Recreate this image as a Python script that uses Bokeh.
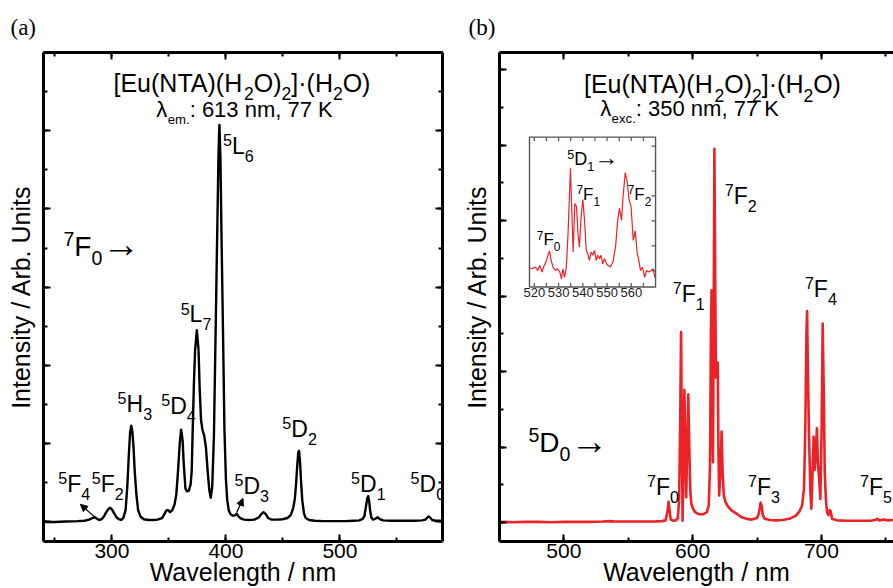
from bokeh.plotting import figure
from bokeh.models import (Range1d, LinearAxis, SingleIntervalTicker, Label, Arrow,
                          NormalHead, CustomJSTickFormatter, Title)
from bokeh.layouts import row
from bokeh.core.properties import value
from bokeh.embed import file_html
from bokeh.resources import INLINE

FONT = "Liberation Sans"
RED = "#EC2227"

# ---------------- data ----------------
# (a) excitation spectrum, lambda_em = 613 nm
exc_wl = [240, 250, 260, 270, 276, 280, 283, 285, 287, 289, 291, 293, 295, 297, 298.5, 300, 302,
          304, 306, 308, 310, 312, 313.5, 315, 316, 317, 318, 319, 320, 321.5, 323, 325, 328, 332,
          336, 340, 344, 346, 348, 349.5, 351, 353, 355, 356.5, 358, 359.5, 360.7, 362, 363, 364.5,
          366, 367.5, 369, 370, 371, 372, 373, 374.5, 376, 377, 378.2, 379.5, 381, 382.5, 384,
          385.5, 386.7, 388, 389.5, 391, 392.5, 393.5, 394.3, 395.2, 396.2, 397.5, 398.7, 400,
          401.2, 402.5, 404, 406, 408, 409.5, 411, 413, 416, 420, 425, 429, 431, 433, 435, 437,
          440, 445, 450, 454, 457, 459, 460.5, 461.5, 462.5, 463.5, 464.2, 465, 466, 467, 468.5,
          470, 473, 478, 485, 495, 505, 512, 517, 520, 521.5, 523, 524, 524.8, 525.6, 526.5,
          527.5, 529, 531, 533, 535, 538, 545, 555, 565, 572, 575, 577, 578.2, 579.5, 581, 584, 590]
exc_int = [0.0, 0.0, 0.01, 0.02, 0.03, 0.06, 0.1, 0.12, 0.08, 0.05, 0.07, 0.14, 0.25, 0.33, 0.36,
           0.32, 0.22, 0.12, 0.07, 0.05, 0.1, 0.3, 0.9, 1.8, 2.3, 2.46, 2.3, 1.9, 1.3, 0.7, 0.3,
           0.14, 0.07, 0.05, 0.05, 0.06, 0.1, 0.2, 0.3, 0.3, 0.25, 0.3, 0.45, 0.7, 1.3, 2.0, 2.36,
           2.1, 1.5, 0.85, 0.78, 0.8, 0.95, 1.3, 2.5, 3.6, 4.4, 4.9, 4.4, 3.4, 2.6, 2.35, 2.2,
           1.9, 1.3, 0.8, 0.62, 0.9, 2.2, 4.9, 7.6, 9.4, 10.15, 9.3, 7.2, 4.8, 2.4, 1.1, 0.55,
           0.3, 0.2, 0.16, 0.17, 0.21, 0.14, 0.09, 0.06, 0.05, 0.06, 0.12, 0.2, 0.25, 0.2, 0.1,
           0.06, 0.06, 0.07, 0.1, 0.18, 0.35, 0.6, 0.95, 1.4, 1.78, 1.82, 1.55, 1.0, 0.55, 0.22,
           0.1, 0.05, 0.03, 0.02, 0.02, 0.02, 0.03, 0.04, 0.08, 0.15, 0.42, 0.6, 0.66, 0.55, 0.3,
           0.12, 0.06, 0.08, 0.12, 0.07, 0.04, 0.03, 0.03, 0.03, 0.04, 0.06, 0.12, 0.14, 0.1,
           0.05, 0.03, 0.03]

# (b) emission spectrum, lambda_exc = 350 nm
em_wl = [450, 460, 470, 480, 490, 500, 510, 520, 530, 535, 540, 550, 560, 570, 576, 579, 580.5,
         581.3, 582, 583, 585, 587, 588.5, 589.5, 590.3, 591.0, 591.6, 592.2, 592.8, 593.6, 594.4,
         595.0, 595.8, 596.6, 597.4, 598.2, 599.0, 600.5, 602, 605, 608, 611, 612.5, 613.5, 614.2,
         614.7, 615.3, 615.8, 616.3, 616.9, 617.5, 618.1, 618.8, 619.5, 620.0, 620.6, 621.5, 622.5,
         623.3, 624.2, 625.5, 627, 630, 634, 638, 642, 646, 650, 651.5, 652.8, 653.6, 654.5, 656,
         660, 665, 670, 675, 680, 683, 685, 686.5, 687.5, 688.4, 688.9, 689.5, 690.5, 691.5,
         692.2, 693.0, 694.0, 694.8, 695.5, 696.5, 697.3, 698.2, 699.2, 700.2, 701.0, 701.8,
         702.6, 703.5, 704.4, 705.5, 706.5, 707.2, 708.3, 712, 720, 730, 738, 742, 743.5, 745,
         748, 752, 756]
em_int = [0.02, 0.01, 0.02, 0.02, 0.01, 0.02, 0.02, 0.02, 0.03, 0.04, 0.03, 0.03, 0.03, 0.03,
          0.04, 0.06, 0.3, 0.55, 0.35, 0.08, 0.05, 0.06, 0.12, 0.6, 2.5, 5.05, 2.5, 0.05, 1.5,
          3.52, 1.6, 0.67, 2.0, 3.4, 2.0, 0.8, 0.5, 0.35, 0.28, 0.22, 0.22, 0.28, 0.45, 1.5, 5.0,
          6.15, 3.0, 1.6, 5.0, 9.9, 6.5, 3.84, 3.9, 4.24, 2.0, 0.72, 1.3, 2.41, 1.3, 0.72, 0.55,
          0.45, 0.33, 0.24, 0.14, 0.1, 0.08, 0.12, 0.25, 0.53, 0.45, 0.2, 0.1, 0.07, 0.06, 0.07,
          0.1, 0.18, 0.3, 0.45, 0.9, 2.5, 5.0, 5.6, 4.0, 2.14, 0.8, 0.37, 1.2, 2.27, 1.4, 1.7,
          2.5, 1.6, 1.2, 0.63, 2.5, 5.27, 3.5, 1.34, 0.6, 0.27, 0.2, 0.33, 0.3, 0.1, 0.06, 0.05,
          0.05, 0.05, 0.07, 0.1, 0.06, 0.08, 0.06, 0.07]

# inset: 5D1 -> 7FJ region
ins_wl = [517.7, 519.0, 520.4, 521.4, 522.2, 523.2, 523.9, 524.8, 525.6, 526.3, 526.9, 527.7,
          528.7, 529.6, 530.5, 531.2, 531.8, 532.5, 533.2, 533.9, 534.9, 535.4, 536.0, 536.7,
          537.4, 538.0, 538.6, 539.3, 540.0, 540.7, 541.4, 542.0, 542.7, 543.4, 544.1, 544.8,
          545.5, 546.2, 546.9, 547.5, 548.2, 548.9, 549.8, 550.4, 551.4, 552.4, 553.5, 554.4,
          555.1, 556.0, 556.6, 557.5, 558.3, 559.1, 559.9, 560.8, 561.6, 562.4, 563.1, 563.8,
          564.6, 565.5, 566.3, 567.2, 568.2, 569.0, 569.7]
ins_int = [1.12, 1.08, 1.15, 1.01, 1.21, 0.95, 1.17, 1.35, 1.62, 1.79, 1.42, 1.15, 1.01, 1.08,
           0.95, 0.68, 1.08, 0.74, 1.15, 2.49, 5.11, 3.57, 1.75, 3.70, 3.57, 2.49, 1.95, 3.16,
           3.86, 3.03, 1.82, 1.69, 1.42, 1.75, 1.62, 1.82, 1.42, 1.62, 1.48, 1.62, 1.28, 1.48,
           1.28, 1.21, 1.15, 1.35, 1.95, 3.03, 3.50, 3.03, 3.97, 4.94, 4.58, 3.84, 3.57, 2.22,
           2.60, 1.75, 1.42, 1.01, 1.15, 0.74, 1.01, 0.95, 1.01, 1.08, 0.74]
ins_ticks = [520, 530, 540, 550, 560]
ins_minor = [525, 535, 545, 555, 565]
ins_yticks = [1, 2, 3, 4, 5, 6]

# ---------------- helpers ----------------
ADV = {' ': 278, '[': 278, ']': 278, '(': 333, ')': 333, '·': 333, ':': 278, ',': 278,
       '.': 278, '/': 278, 'A': 667, 'D': 722, 'E': 667, 'F': 611, 'H': 722, 'K': 667,
       'L': 556, 'N': 722, 'O': 778, 'T': 611, 'c': 500, 'e': 556, 'm': 833, 'n': 556,
       'u': 556, 'x': 500, 'λ': 520, '→': 1000}


def tw(s, size):
    return sum(ADV.get(ch, 556) for ch in s) * size / 1000.0


def rich(p, x, y, parts, size, align="left", color="black", small=0.7):
    """Places a label whose baseline is at (x, y); sub/superscripts are separate pieces."""
    scale = {"n": 1.0, "sub": small, "sup": small, "arr": 1.35}
    shift = {"n": 0.0, "sub": -0.33, "sup": 0.36, "arr": -0.06}
    widths = [tw(t, size * scale[k]) for t, k in parts]
    off = -sum(widths) / 2.0 if align == "center" else 0.0
    for (t, k), w in zip(parts, widths):
        s = size * scale[k]
        p.add_layout(Label(x=x, y=y, x_offset=off, y_offset=shift[k] * size + 0.347 * s,
                           text=t, text_font=FONT, text_font_size=f"{s:.1f}px",
                           text_color=color, text_align="left", text_baseline="middle"))
        off += w


def sup_sub(a, b, c):
    return [(a, "sup"), (b, "n"), (c, "sub")]


ARROW = [("→", "arr")]


def blank():
    return CustomJSTickFormatter(code="return ''")


def style(ax, labels):
    ax.axis_line_width = 3
    ax.axis_line_color = "black"
    ax.major_tick_in = 7
    ax.major_tick_out = 0
    ax.minor_tick_in = 4
    ax.minor_tick_out = 0
    ax.major_tick_line_width = 2
    ax.minor_tick_line_width = 2
    ax.major_tick_line_color = "black"
    ax.minor_tick_line_color = "black"
    ax.major_label_text_font = FONT
    ax.major_label_text_color = "black"
    ax.axis_label_text_font = FONT
    ax.axis_label_text_font_style = "normal"
    ax.axis_label_text_font_size = "25px"
    ax.axis_label_text_color = "black"
    if labels:
        ax.major_label_text_font_size = "21px"
        ax.major_label_standoff = 2
    else:
        ax.formatter = blank()
        ax.major_label_text_font_size = "0px"
        ax.major_label_standoff = 0


def make_fig(width, xr, yr, left, right, with_right_axis, tag, tag_offset):
    p = figure(width=width, height=588, x_range=xr, y_range=yr, output_backend="svg",
               toolbar_location=None, x_axis_location=None, y_axis_location=None,
               min_border_left=left, min_border_right=right, min_border_top=51,
               min_border_bottom=10)
    p.outline_line_color = None
    p.background_fill_color = "white"
    p.border_fill_color = "white"
    p.xgrid.visible = False
    p.ygrid.visible = False
    xt = SingleIntervalTicker(interval=100, num_minor_ticks=2)
    yt = SingleIntervalTicker(interval=2, num_minor_ticks=2)
    below = LinearAxis(ticker=xt, axis_label="Wavelength / nm")
    style(below, True)
    below.axis_label_standoff = -3
    p.add_layout(below, "below")
    above = LinearAxis(ticker=xt)
    style(above, False)
    p.add_layout(above, "above")
    left_ax = LinearAxis(ticker=yt, axis_label="Intensity / Arb. Units")
    style(left_ax, False)
    left_ax.axis_label_standoff = 9
    p.add_layout(left_ax, "left")
    if with_right_axis:
        r = LinearAxis(ticker=yt)
        style(r, False)
        p.add_layout(r, "right")
    p.add_layout(Title(text=tag, text_font="Liberation Serif", text_font_size="23px",
                       text_font_style="normal", text_color="black", align="left",
                       offset=tag_offset, standoff=25), "above")
    return p


# ---------------- panel (a) ----------------
pa = make_fig(450, Range1d(240, 590), Range1d(-0.5, 12.0), 43, 8, True, "(a)", -33)
pa.line(exc_wl, exc_int, line_color="black", line_width=2.4, line_join="round")

rich(pa, 414.1, 11.0, [("[Eu(NTA)(H", "n"), ("2", "sub"), ("O)", "n"), ("2", "sub"),
                       ("]·(H", "n"), ("2", "sub"), ("O)", "n")], 25, align="center")
rich(pa, 416.3, 10.35, [("λ", "n"), ("em.", "sub"), (": 613 nm, 77 K", "n")], 22,
     align="center", small=0.6)
rich(pa, 257.5, 6.80, sup_sub("7", "F", "0") + ARROW, 28)
rich(pa, 397.5, 9.40, sup_sub("5", "L", "6"), 23)
rich(pa, 360.3, 5.10, sup_sub("5", "L", "7"), 23)
rich(pa, 343.3, 2.77, sup_sub("5", "D", "4"), 23)
rich(pa, 305.0, 2.82, sup_sub("5", "H", "3"), 23)
rich(pa, 253.0, 0.76, sup_sub("5", "F", "4"), 23)
rich(pa, 282.4, 0.76, sup_sub("5", "F", "2"), 23)
rich(pa, 407.5, 0.72, sup_sub("5", "D", "3"), 23)
rich(pa, 449.5, 2.17, sup_sub("5", "D", "2"), 23)
rich(pa, 509.8, 0.76, sup_sub("5", "D", "1"), 23)
rich(pa, 562.0, 0.76, sup_sub("5", "D", "0"), 23)
for xs, ys, xe, ye in [(285.5, 0.11, 272.4, 0.45), (409.5, 0.24, 415.0, 0.60)]:
    pa.add_layout(Arrow(end=NormalHead(size=7, line_color="black", fill_color="black",
                                       line_width=1),
                        x_start=xs, y_start=ys, x_end=xe, y_end=ye,
                        line_color="black", line_width=1.3))

# ---------------- panel (b) ----------------
pb = make_fig(443, Range1d(450, 756), Range1d(-0.5, 12.45), 49, 0, False, "(b)", -31)
pb.line(em_wl, em_int, line_color=RED, line_width=2.6, line_join="round")

rich(pb, 615.4, 11.38, [("[Eu(NTA)(H", "n"), ("2", "sub"), ("O)", "n"), ("2", "sub"),
                        ("]·(H", "n"), ("2", "sub"), ("O)", "n")], 25, align="center")
rich(pb, 597.6, 10.77, [("λ", "n"), ("exc.", "sub"), (": 350 nm, 77 K", "n")], 22,
     align="center", small=0.6)
rich(pb, 472.5, 1.87, sup_sub("5", "D", "0") + ARROW, 28)
rich(pb, 564.5, 0.73, sup_sub("7", "F", "0"), 23)
rich(pb, 643.0, 0.73, sup_sub("7", "F", "3"), 23)
rich(pb, 730.0, 0.73, sup_sub("7", "F", "5"), 23)
rich(pb, 584.6, 5.84, sup_sub("7", "F", "1"), 23)
rich(pb, 625.0, 8.45, sup_sub("7", "F", "2"), 23)
rich(pb, 687.2, 5.97, sup_sub("7", "F", "4"), 23)

# inset drawn through a sub-coordinate mapping of panel (b)
ix = Range1d(518, 570)
iy = Range1d(0.35, 6.36)
sub = pb.subplot(x_source=ix, y_source=iy,
                 x_target=Range1d(473.3, 571.2), y_target=Range1d(6.24, 10.21))
ypx = (iy.end - iy.start) / 149.0
xpx = (ix.end - ix.start) / 126.0
sub.line(ins_wl, ins_int, line_color=RED, line_width=1.2)
tk = ins_ticks + ins_minor
sub.segment(x0=tk, x1=tk, y0=[iy.start] * len(tk), y1=[iy.start + 4 * ypx] * len(tk),
            line_color="#555555", line_width=1.2)
sub.segment(x0=tk, x1=tk, y0=[iy.end] * len(tk), y1=[iy.end - 4 * ypx] * len(tk),
            line_color="#555555", line_width=1.2)
sub.segment(x0=[ix.end] * len(ins_yticks), x1=[ix.end - 4 * xpx] * len(ins_yticks),
            y0=ins_yticks, y1=ins_yticks, line_color="#555555", line_width=1.2)
sub.quad(left=[ix.start], right=[ix.end], bottom=[iy.start], top=[iy.end],
         fill_color=None, line_color="#555555", line_width=1.4)
sub.text(x=ins_ticks, y=[iy.start - 1 * ypx] * len(ins_ticks),
         text=[str(t) for t in ins_ticks], text_font=value(FONT), text_font_size="13px",
         text_color="#222222", text_align="center", text_baseline="top")
rich(pb, 502.6, 9.47, sup_sub("5", "D", "1") + ARROW, 18)
rich(pb, 509.8, 8.54, sup_sub("7", "F", "1"), 17)
rich(pb, 549.6, 8.54, sup_sub("7", "F", "2"), 17)
rich(pb, 479.0, 7.34, sup_sub("7", "F", "0"), 17)

layout = row(pa, pb)
open("out.html", "w").write(file_html(layout, INLINE))
